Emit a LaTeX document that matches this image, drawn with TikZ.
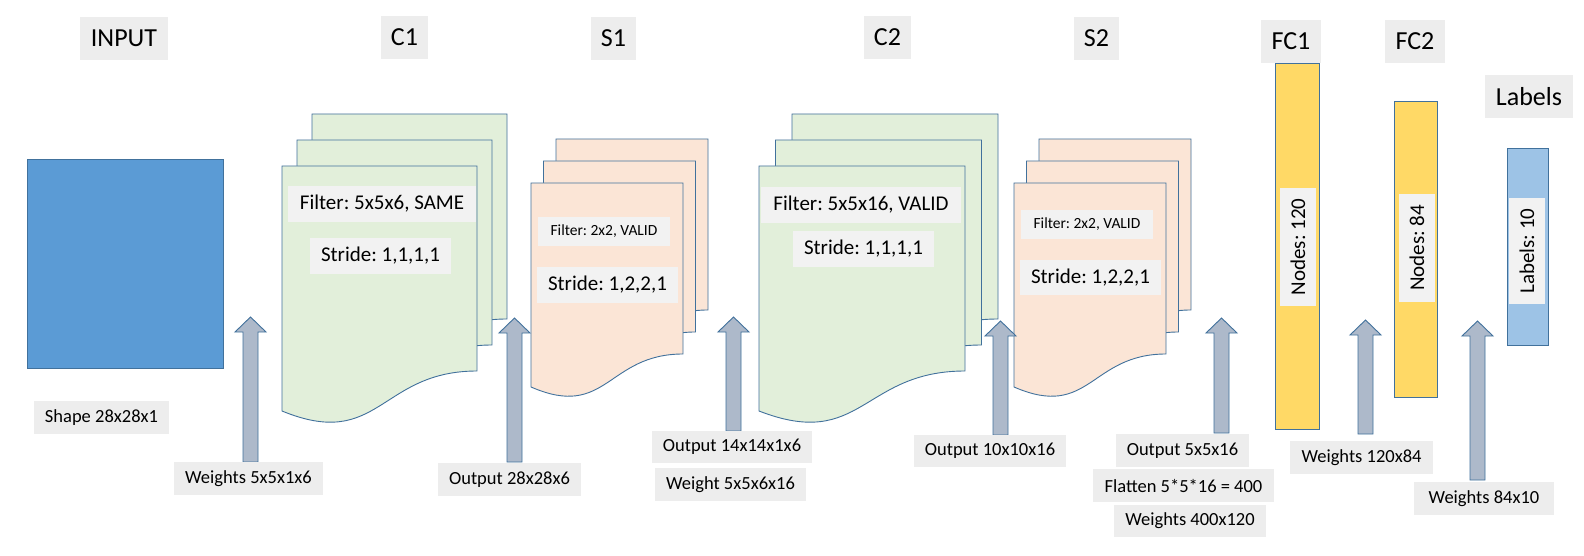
\documentclass[tikz,border=0pt]{standalone}
\usepackage{fontspec}
\setmainfont{Carlito}
\frenchspacing
\definecolor{edgeblue}{HTML}{41719C}
\definecolor{inputblue}{HTML}{5B9BD5}
\definecolor{convgreen}{HTML}{E2EFDA}
\definecolor{poolpeach}{HTML}{FBE5D6}
\definecolor{fcgold}{HTML}{FFD966}
\definecolor{outblue}{HTML}{9DC3E6}
\definecolor{arrowgray}{HTML}{ADB9CA}
\definecolor{lblgray}{HTML}{EDEDED}
\definecolor{boxgray}{HTML}{F2F2F2}
\newcommand{\docpage}[7]{%
  \draw[edgeblue, fill = #7, line width = .9pt] (#1, #2)--++(#3, 0)--++(0, #4)
    .. controls ({#1 + #3/2}, {#2 + #4}) and ({#1 + #3/2}, {#2 + #6}) .. (#1, {#2 + #5})--cycle;}
\newcommand{\blockarrow}[3]{%
  \draw[edgeblue, fill = arrowgray, line width = .9pt] ({#1 - 7.5}, #2)--({#1 - 7.5}, {#3 + 15})--({#1 - 15.5}, {#3 + 15})
    --(#1, #3)--({#1 + 15.5}, {#3 + 15})--({#1 + 7.5}, {#3 + 15})--({#1 + 7.5}, #2)--cycle;}
\tikzset{
  hdr/.style = {fill = lblgray, inner sep = 0pt, minimum height = 43pt, font = \fontsize{26}{30}\selectfont},
  note/.style = {fill = lblgray, inner sep = 0pt, minimum height = 33pt, font = \fontsize{18.5}{22}\selectfont},
  inbox/.style = {fill = boxgray, inner sep = 0pt, minimum height = 36pt, font = \fontsize{21}{25}\selectfont},
  smallbox/.style = {inbox, minimum height = 29pt, font = \fontsize{15.5}{18}\selectfont},
  bar/.style = {draw = edgeblue, line width = .9pt}
}
\begin{document}
\begin{tikzpicture}[x = 1pt, y = -1pt]
  \path[use as bounding box, fill = white] (0, 0) rectangle (1584, 556);
  \fill[bar, fill = inputblue] (27, 159) rectangle (223, 368);
  \foreach \k in {2, 1, 0}
    \docpage{282 + \k*15}{166 - \k*26}{195}{205}{245}{285}{convgreen};
  \foreach \k in {2, 1, 0}
    \docpage{531 + \k*12.5}{183 - \k*22}{152}{171}{204}{237}{poolpeach};
  \foreach \k in {2, 1, 0}
    \docpage{759 + \k*16.5}{166 - \k*26}{206}{205}{245}{285}{convgreen};
  \foreach \k in {2, 1, 0}
    \docpage{1014 + \k*12.5}{183 - \k*22}{152}{171}{204}{237}{poolpeach};
  \fill[bar, fill = fcgold] (1275, 63) rectangle (1319, 429);
  \fill[bar, fill = fcgold] (1394, 101) rectangle (1437, 397);
  \fill[bar, fill = outblue] (1507, 148) rectangle (1548, 345);
  \foreach \ax/\ay/\at in {250.5/462/317, 514.5/462/318, 733.5/431/317, 1000.5/435/321, 1221.5/433/318, 1365.5/434/320, 1477.5/480/321}
    \blockarrow{\ax}{\ay}{\at};
  \node[hdr, minimum width = 88pt] (hdrinput) at (124, 38.5) {INPUT};
  \node[hdr, minimum width = 47pt] (hdrcone) at (404.5, 37.5) {C1};
  \node[hdr, minimum width = 45pt] (hdrsone) at (613.5, 38.5) {S1};
  \node[hdr, minimum width = 47pt] (hdrctwo) at (887.5, 37.5) {C2};
  \node[hdr, minimum width = 45pt] (hdrstwo) at (1096.5, 38.5) {S2};
  \node[hdr, minimum width = 60pt] (hdrfcone) at (1291, 41.5) {FC1};
  \node[hdr, minimum width = 60pt] (hdrfctwo) at (1415, 41.5) {FC2};
  \node[hdr, minimum width = 88pt] (hdrlabels) at (1529, 96.5) {Labels};
  \node[inbox, minimum width = 188pt] (conefilter) at (382, 204) {Filter: 5x5x6, SAME};
  \node[inbox, minimum width = 141pt] (conestride) at (380.5, 256) {Stride: 1,1,1,1};
  \node[smallbox, minimum width = 132pt] (sonefilter) at (604, 231.5) {Filter: 2x2, VALID};
  \node[inbox, minimum width = 141pt] (sonestride) at (607.5, 285) {Stride: 1,2,2,1};
  \node[inbox, minimum width = 200pt] (ctwofilter) at (861, 205) {Filter: 5x5x16, VALID};
  \node[inbox, minimum width = 141pt] (ctwostride) at (863.5, 249) {Stride: 1,1,1,1};
  \node[smallbox, minimum width = 132pt] (stwofilter) at (1087, 224.5) {Filter: 2x2, VALID};
  \node[inbox, minimum width = 141pt, minimum height = 35pt] (stwostride) at (1090.5, 277.5) {Stride: 1,2,2,1};
  \node[inbox, rotate = 90, minimum width = 118pt] (fconenodes) at (1298, 247) {Nodes: 120};
  \node[inbox, rotate = 90, minimum width = 108pt] (fctwonodes) at (1417, 248) {Nodes: 84};
  \node[inbox, rotate = 90, minimum width = 106pt] (outnodes) at (1527, 251) {Labels: 10};
  \node[note, minimum width = 135pt] (inshape) at (101.5, 417.5) {Shape 28x28x1};
  \node[note, minimum width = 149pt] (wone) at (248.5, 478.5) {Weights 5x5x1x6};
  \node[note, minimum width = 143pt] (outone) at (509.5, 479.5) {Output 28x28x6};
  \node[note, minimum width = 160pt, minimum height = 32pt] (outtwo) at (732, 447) {Output 14x14x1x6};
  \node[note, minimum width = 151pt] (wtwo) at (730.5, 484.5) {Weight 5x5x6x16};
  \node[note, minimum width = 152pt, minimum height = 32pt] (outthree) at (990, 451) {Output 10x10x16};
  \node[note, minimum width = 133pt] (outfour) at (1182.5, 450.5) {Output 5x5x16};
  \node[note, minimum width = 181pt] (flat) at (1183.5, 485.5) {Flatten 5*5*16 = 400};
  \node[note, minimum width = 152pt, minimum height = 32pt] (wthree) at (1190, 521) {Weights 400x120};
  \node[note, minimum width = 143pt] (wfour) at (1361.5, 457.5) {Weights 120x84};
  \node[note, minimum width = 140pt] (wfive) at (1484, 498.5) {Weights 84x10};
\end{tikzpicture}
\end{document}
